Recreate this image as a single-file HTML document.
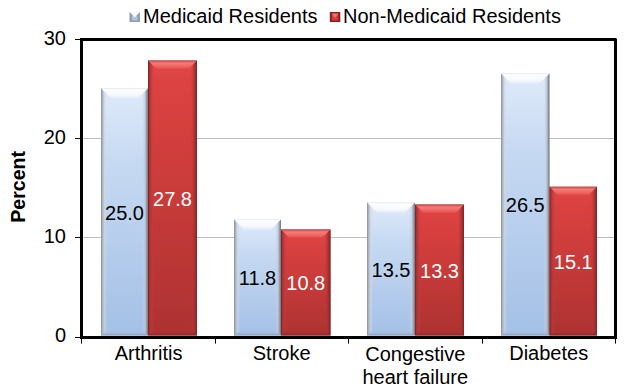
<!DOCTYPE html>
<html><head><meta charset="utf-8"><title>Chart</title>
<style>
html,body{margin:0;padding:0;background:#fff;width:627px;height:392px;overflow:hidden}
svg{display:block}
.t{font-family:"Liberation Sans",sans-serif;font-size:20px;fill:#000}
.b{font-family:"Liberation Sans",sans-serif;font-size:19.6px;font-weight:bold;fill:#000}
</style></head><body>
<svg width="627" height="392" viewBox="0 0 627 392">
<defs>
<filter id="soft" x="-5%" y="-5%" width="110%" height="110%"><feGaussianBlur stdDeviation="0.45"/></filter>
<linearGradient id="gB" x1="0" y1="0" x2="0" y2="1">
  <stop offset="0" stop-color="#dfeafa"/><stop offset="0.3" stop-color="#c6d9f2"/><stop offset="1" stop-color="#a4c0e6"/>
</linearGradient>
<linearGradient id="gR" x1="0" y1="0" x2="0" y2="1">
  <stop offset="0" stop-color="#e04545"/><stop offset="0.3" stop-color="#d23e3c"/><stop offset="1" stop-color="#ad3232"/>
</linearGradient>
<linearGradient id="tB" x1="0" y1="0" x2="0" y2="1">
  <stop offset="0" stop-color="#e4e6ea"/><stop offset="0.1" stop-color="#fcfcfd"/><stop offset="0.6" stop-color="#f8fafd"/><stop offset="1" stop-color="#e4edfa"/>
</linearGradient>
<linearGradient id="tR" x1="0" y1="0" x2="0" y2="1">
  <stop offset="0" stop-color="#a43a3a"/><stop offset="0.14" stop-color="#e06262"/><stop offset="0.32" stop-color="#f77a78"/><stop offset="0.7" stop-color="#ee6462"/><stop offset="1" stop-color="#e24a48"/>
</linearGradient>
<linearGradient id="lB" x1="0" y1="0" x2="1" y2="0">
  <stop offset="0" stop-color="#88909c"/><stop offset="0.25" stop-color="#aab2be"/><stop offset="0.6" stop-color="#cdd5e0" stop-opacity="0.6"/><stop offset="1" stop-color="#d8e2ee" stop-opacity="0"/>
</linearGradient>
<linearGradient id="rB" x1="1" y1="0" x2="0" y2="0">
  <stop offset="0" stop-color="#6e7480"/><stop offset="0.3" stop-color="#a0a8b6"/><stop offset="0.6" stop-color="#c4ccd8" stop-opacity="0.6"/><stop offset="1" stop-color="#c6d6ec" stop-opacity="0"/>
</linearGradient>
<linearGradient id="lR" x1="0" y1="0" x2="1" y2="0">
  <stop offset="0" stop-color="#782428"/><stop offset="0.28" stop-color="#ac3232"/><stop offset="1" stop-color="#d04040" stop-opacity="0"/>
</linearGradient>
<linearGradient id="rR" x1="1" y1="0" x2="0" y2="0">
  <stop offset="0" stop-color="#6e2a2c"/><stop offset="0.3" stop-color="#a02e2e"/><stop offset="1" stop-color="#c03838" stop-opacity="0"/>
</linearGradient>
<linearGradient id="bB" x1="0" y1="1" x2="0" y2="0">
  <stop offset="0" stop-color="#8c9cb4"/><stop offset="1" stop-color="#a3bfe5" stop-opacity="0"/>
</linearGradient>
<linearGradient id="bR" x1="0" y1="1" x2="0" y2="0">
  <stop offset="0" stop-color="#802828"/><stop offset="1" stop-color="#ad3232" stop-opacity="0"/>
</linearGradient>
</defs>
<rect width="627" height="392" fill="#fff"/>
<rect x="83" y="138" width="531" height="1" fill="#bdbdbd"/>
<rect x="83" y="237" width="531" height="1" fill="#bdbdbd"/>
<g filter="url(#soft)">
<rect x="101.00" y="88.37" width="47.00" height="247.13" fill="url(#gB)"/>
<polygon points="101.00,88.37 148.00,88.37 138.00,98.37 111.00,98.37" fill="url(#tB)"/>
<polygon points="101.00,88.37 107.00,94.37 107.00,331.50 101.00,335.50" fill="url(#lB)"/>
<polygon points="148.00,88.37 142.00,94.37 142.00,331.50 148.00,335.50" fill="url(#rB)"/>
<polygon points="101.00,335.50 148.00,335.50 144.00,331.50 105.00,331.50" fill="url(#bB)"/>
<rect x="148.00" y="60.55" width="49.00" height="274.95" fill="url(#gR)"/>
<polygon points="148.00,60.55 197.00,60.55 188.50,69.05 156.50,69.05" fill="url(#tR)"/>
<polygon points="148.00,60.55 154.00,66.55 154.00,331.50 148.00,335.50" fill="url(#lR)"/>
<polygon points="197.00,60.55 191.00,66.55 191.00,331.50 197.00,335.50" fill="url(#rR)"/>
<polygon points="148.00,335.50 197.00,335.50 193.00,331.50 152.00,331.50" fill="url(#bR)"/>
<rect x="234.00" y="219.49" width="47.00" height="116.01" fill="url(#gB)"/>
<polygon points="234.00,219.49 281.00,219.49 271.00,229.49 244.00,229.49" fill="url(#tB)"/>
<polygon points="234.00,219.49 240.00,225.49 240.00,331.50 234.00,335.50" fill="url(#lB)"/>
<polygon points="281.00,219.49 275.00,225.49 275.00,331.50 281.00,335.50" fill="url(#rB)"/>
<polygon points="234.00,335.50 281.00,335.50 277.00,331.50 238.00,331.50" fill="url(#bB)"/>
<rect x="281.00" y="229.42" width="49.50" height="106.08" fill="url(#gR)"/>
<polygon points="281.00,229.42 330.50,229.42 322.00,237.92 289.50,237.92" fill="url(#tR)"/>
<polygon points="281.00,229.42 287.00,235.42 287.00,331.50 281.00,335.50" fill="url(#lR)"/>
<polygon points="330.50,229.42 324.50,235.42 324.50,331.50 330.50,335.50" fill="url(#rR)"/>
<polygon points="281.00,335.50 330.50,335.50 326.50,331.50 285.00,331.50" fill="url(#bR)"/>
<rect x="367.00" y="202.60" width="48.00" height="132.90" fill="url(#gB)"/>
<polygon points="367.00,202.60 415.00,202.60 405.00,212.60 377.00,212.60" fill="url(#tB)"/>
<polygon points="367.00,202.60 373.00,208.60 373.00,331.50 367.00,335.50" fill="url(#lB)"/>
<polygon points="415.00,202.60 409.00,208.60 409.00,331.50 415.00,335.50" fill="url(#rB)"/>
<polygon points="367.00,335.50 415.00,335.50 411.00,331.50 371.00,331.50" fill="url(#bB)"/>
<rect x="415.00" y="204.59" width="49.00" height="130.91" fill="url(#gR)"/>
<polygon points="415.00,204.59 464.00,204.59 455.50,213.09 423.50,213.09" fill="url(#tR)"/>
<polygon points="415.00,204.59 421.00,210.59 421.00,331.50 415.00,335.50" fill="url(#lR)"/>
<polygon points="464.00,204.59 458.00,210.59 458.00,331.50 464.00,335.50" fill="url(#rR)"/>
<polygon points="415.00,335.50 464.00,335.50 460.00,331.50 419.00,331.50" fill="url(#bR)"/>
<rect x="501.00" y="73.47" width="48.50" height="262.03" fill="url(#gB)"/>
<polygon points="501.00,73.47 549.50,73.47 539.50,83.47 511.00,83.47" fill="url(#tB)"/>
<polygon points="501.00,73.47 507.00,79.47 507.00,331.50 501.00,335.50" fill="url(#lB)"/>
<polygon points="549.50,73.47 543.50,79.47 543.50,331.50 549.50,335.50" fill="url(#rB)"/>
<polygon points="501.00,335.50 549.50,335.50 545.50,331.50 505.00,331.50" fill="url(#bB)"/>
<rect x="549.50" y="186.71" width="47.50" height="148.79" fill="url(#gR)"/>
<polygon points="549.50,186.71 597.00,186.71 588.50,195.21 558.00,195.21" fill="url(#tR)"/>
<polygon points="549.50,186.71 555.50,192.71 555.50,331.50 549.50,335.50" fill="url(#lR)"/>
<polygon points="597.00,186.71 591.00,192.71 591.00,331.50 597.00,335.50" fill="url(#rR)"/>
<polygon points="549.50,335.50 597.00,335.50 593.00,331.50 553.50,331.50" fill="url(#bR)"/>
</g>
<path d="M80,339 L80,38 L615.5,38 Q617,38 617,39.5 L617,339 Z M83,336 L614,336 L614,41 L83,41 Z" fill="#000" fill-rule="evenodd"/>
<rect x="75" y="39" width="5" height="1" fill="#000"/>
<rect x="75" y="138" width="5" height="1" fill="#000"/>
<rect x="75" y="237" width="5" height="1" fill="#000"/>
<rect x="75" y="337" width="5" height="1" fill="#000"/>
<rect x="81" y="339" width="1" height="4.6" fill="#000"/>
<rect x="215" y="339" width="1" height="4.6" fill="#000"/>
<rect x="348" y="339" width="1" height="4.6" fill="#000"/>
<rect x="482" y="339" width="1" height="4.6" fill="#000"/>
<rect x="615" y="339" width="1" height="4.6" fill="#000"/>
<text x="66" y="45.3" text-anchor="end" class="t">30</text>
<text x="66" y="144.1" text-anchor="end" class="t">20</text>
<text x="66" y="243.4" text-anchor="end" class="t">10</text>
<text x="66" y="342.2" text-anchor="end" class="t">0</text>
<text x="124.50" y="219.93" text-anchor="middle" class="t" style="fill:#000">25.0</text>
<text x="172.50" y="206.03" text-anchor="middle" class="t" style="fill:#fff">27.8</text>
<text x="257.50" y="285.49" text-anchor="middle" class="t" style="fill:#000">11.8</text>
<text x="305.75" y="290.46" text-anchor="middle" class="t" style="fill:#fff">10.8</text>
<text x="391.00" y="277.05" text-anchor="middle" class="t" style="fill:#000">13.5</text>
<text x="439.50" y="278.04" text-anchor="middle" class="t" style="fill:#fff">13.3</text>
<text x="525.25" y="212.48" text-anchor="middle" class="t" style="fill:#000">26.5</text>
<text x="573.25" y="269.10" text-anchor="middle" class="t" style="fill:#fff">15.1</text>
<text x="148.60" y="360.4" text-anchor="middle" class="t">Arthritis</text>
<text x="281.70" y="360.4" text-anchor="middle" class="t">Stroke</text>
<text x="415.30" y="360.6" text-anchor="middle" class="t">Congestive</text>
<text x="415.30" y="383.6" text-anchor="middle" class="t">heart failure</text>
<text x="548.70" y="360.4" text-anchor="middle" class="t">Diabetes</text>
<rect x="129.5" y="12" width="10.5" height="10" fill="#909fb5"/><rect x="132.0" y="16" width="5.5" height="4.5" fill="#b2c4dc"/><polygon points="129.5,12 140.0,12 134.75,17.5" fill="#f6f8fb"/>
<text x="143" y="22.6" class="t">Medicaid Residents</text>
<rect x="329.8" y="12" width="10.5" height="10" fill="#8a1e20"/><rect x="331.8" y="13.5" width="6.5" height="7" fill="#d23c3c"/><polygon points="331.8,13.5 338.3,13.5 335.05,18" fill="#ee7474"/>
<text x="343" y="22.6" class="t">Non-Medicaid Residents</text>
<text x="0" y="0" class="b" text-anchor="middle" transform="translate(24.6,186.9) rotate(-90)">Percent</text>
</svg>
</body></html>
